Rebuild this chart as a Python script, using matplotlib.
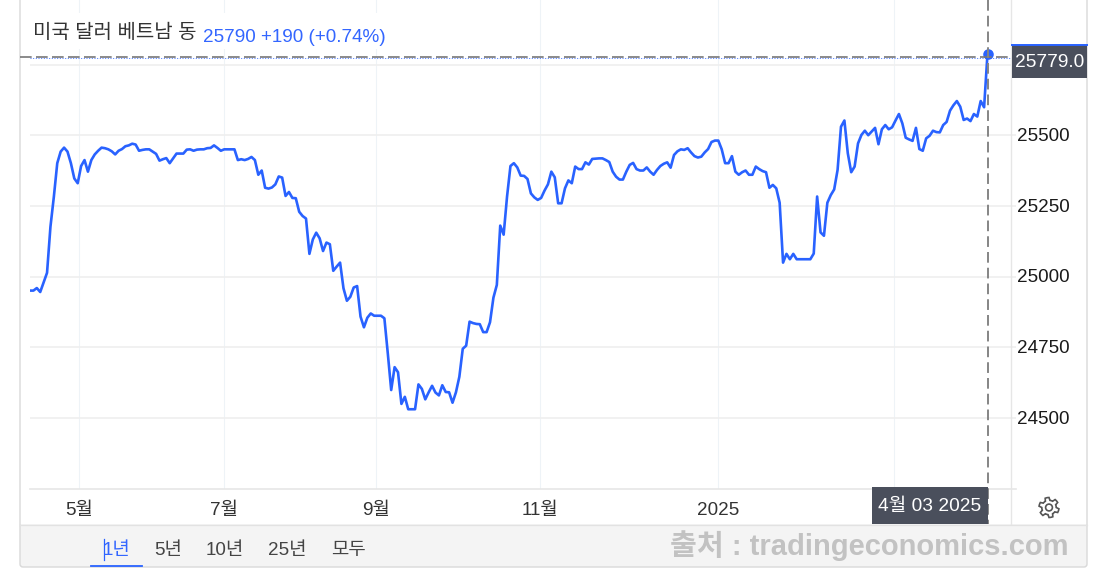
import numpy as np
import matplotlib
matplotlib.use('Agg')
import matplotlib.pyplot as plt
from matplotlib.patches import Rectangle, FancyBboxPatch, Polygon, Circle
from matplotlib.transforms import ScaledTranslation

# --- dados (USD/VND, 1 ano, um valor por sessao) ---
rate = [
    24951, 24951, 24960, 24946, 24980, 25014, 25177, 25283, 25402, 25443,
    25457, 25443, 25402, 25348, 25331, 25392, 25413, 25372, 25413, 25433,
    25446, 25457, 25455, 25451, 25444, 25433, 25446, 25452, 25462, 25465,
    25471, 25468, 25446, 25449, 25451, 25451, 25443, 25435, 25411, 25416,
    25420, 25402, 25419, 25436, 25436, 25436, 25450, 25451, 25446, 25450,
    25451, 25451, 25455, 25456, 25465, 25456, 25446, 25451, 25451, 25451,
    25451, 25413, 25416, 25413, 25417, 25424, 25413, 25361, 25376, 25315,
    25312, 25316, 25327, 25355, 25351, 25286, 25300, 25279, 25278, 25230,
    25215, 25206, 25081, 25132, 25156, 25136, 25091, 25121, 25115, 25021,
    25036, 25050, 24959, 24915, 24929, 24962, 24967, 24859, 24821, 24855,
    24870, 24862, 24862, 24862, 24853, 24729, 24599, 24680, 24662, 24550,
    24575, 24531, 24531, 24531, 24619, 24603, 24566, 24591, 24614, 24590,
    24580, 24616, 24592, 24591, 24554, 24591, 24646, 24745, 24756, 24841,
    24836, 24833, 24832, 24804, 24804, 24839, 24926, 24971, 25181, 25149,
    25284, 25392, 25402, 25387, 25358, 25357, 25346, 25295, 25281, 25272,
    25279, 25305, 25327, 25372, 25352, 25260, 25260, 25313, 25341, 25331,
    25390, 25381, 25381, 25405, 25397, 25417, 25418, 25419, 25419, 25413,
    25406, 25372, 25354, 25344, 25344, 25372, 25396, 25403, 25381, 25376,
    25376, 25387, 25372, 25361, 25378, 25392, 25400, 25405, 25386, 25431,
    25444, 25451, 25449, 25455, 25440, 25427, 25422, 25425, 25440, 25452,
    25477, 25482, 25482, 25451, 25402, 25402, 25427, 25372, 25361, 25370,
    25376, 25361, 25361, 25390, 25381, 25374, 25370, 25315, 25325, 25313,
    25262, 25050, 25081, 25062, 25081, 25062, 25062, 25062, 25062, 25062,
    25082, 25284, 25157, 25145, 25262, 25289, 25309, 25378, 25531, 25553,
    25437, 25370, 25390, 25472, 25502, 25517, 25501, 25514, 25527, 25469,
    25522, 25537, 25522, 25529, 25553, 25576, 25543, 25492, 25486, 25481,
    25527, 25452, 25446, 25490, 25499, 25517, 25512, 25511, 25537, 25548,
    25588, 25607, 25622, 25602, 25555, 25560, 25551, 25576, 25567, 25622,
    25600, 25790,
]
month_pos = [14.5, 57.05, 101.45, 149.76, 201.8, 253.6]
month_labels = ['5월', '7월', '9월', '11월', '2025', '']
y_ticks = [24500, 24750, 25000, 25250, 25500, 25750]
y_labels = ['24500', '24750', '25000', '25250', '25500', '']
range_buttons = ['1년', '5년', '10년', '25년', '모두']
cross_value = 25779.0

BLUE = '#2962ff'
fonts = ['Liberation Sans', 'Noto Sans CJK KR']
plt.rcParams['font.family'] = fonts

W, H = 1101, 577
fig = plt.figure(figsize=(W / 100, H / 100), dpi=100)

# --- 1. area do grafico (eixo em valores) ---
ax = fig.add_axes([30 / W, 1 - 489 / H, 980 / W, 489 / H], zorder=1)
ax.set_xlim(0, 287.6)
ax.set_ylim(24248.7, 25979.6)
for s in ax.spines.values():
    s.set_visible(False)
ax.set_xticks(month_pos)
ax.set_xticklabels(month_labels, fontsize=13.6, color='#333333')
ax.tick_params(axis='x', length=0, pad=9.5)
ax.yaxis.tick_right()
ax.set_yticks(y_ticks)
ax.set_yticklabels(y_labels, fontsize=13.6, color='#1a1a1a', va='center')
ax.tick_params(axis='y', length=4.3, width=1.1, color='#eeeeee', pad=0.8)
# desce os rotulos do eixo y 1 px
for lb in ax.get_yticklabels():
    lb.set_transform(lb.get_transform() + ScaledTranslation(0, -1 / 100, fig.dpi_scale_trans))
ax.grid(axis='y', color='#eeeeee', lw=1.1)
ax.grid(axis='x', color='#eef3f7', lw=0.8)
ax.set_axisbelow(True)
ax.plot(range(len(rate)), rate, color=BLUE, lw=1.9, solid_joinstyle='round')
ax.plot(len(rate) - 1, rate[-1], 'o', color=BLUE, ms=7.6, mew=0, clip_on=False)

# --- 2. moldura e textos da pagina (em pixels) ---
ui = fig.add_axes([0, 0, 1, 1], zorder=2)
ui.set_xlim(0, W)
ui.set_ylim(H, 0)
ui.axis('off')
ui.patch.set_alpha(0)

ui.add_patch(Rectangle((20, 13), 372, 36, fc='white', ec='none'))
ui.add_patch(Rectangle((20, 524), 1067, 43, fc='#f4f4f4', ec='none'))
ui.add_patch(FancyBboxPatch((23, -20), 1061, 584, boxstyle='round,pad=3,rounding_size=3',
                            fc='none', ec='#d9d9d9', lw=1))
ui.plot([20, 1087], [524.5, 524.5], color='#e2e2e2', lw=0.9)
ui.plot([30, 1016], [489, 489], color='#e6e6e6', lw=1.2)
ui.plot([1010.5, 1010.5], [0, 524], color='#e6e6e6', lw=1)

# linhas da mira
ui.plot([20, 1010], [57, 57], color='#777777', lw=1.2, dashes=(7, 2.6))
ui.plot([30, 1010], [57.8, 57.8], color=BLUE, lw=0.6, dashes=(1.2, 2))
ui.plot([988, 988], [0, 524], color='#858585', lw=1.4, dashes=(5.5, 2.6))

# titulo
ui.text(33, 32, '미국 달러 베트남 동', fontsize=14.4, color='#333333', va='center', ha='left')
ui.text(203, 37, '25790 +190 (+0.74%)', fontsize=13.6, color='#3366ff', va='center', ha='left')

# etiquetas escuras
ui.add_patch(Rectangle((1011.5, 45), 75, 33, fc='#4a4f5c', ec='none', zorder=3))
ui.plot([1011.5, 1086.5], [44.5, 44.5], color=BLUE, lw=1.4, zorder=3)
ui.text(1050, 62.5, f'{cross_value:.1f}', fontsize=13.8, color='white', va='center', ha='center', zorder=4)
ui.add_patch(Rectangle((871.5, 487), 116.5, 37, fc='#4a4f5c', ec='none', zorder=3))
ui.text(929.5, 506, '4월 03 2025', fontsize=13.8, color='white', va='center', ha='center', zorder=4)

# botoes de periodo
for label, x in zip(range_buttons, [116, 168, 225, 287, 348]):
    ui.text(x, 550.5, label, fontsize=13.6, va='center', ha='center',
            color='#3366ff' if label == '1년' else '#444444')
ui.plot([91, 142], [566, 566], color=BLUE, lw=1.3)
ui.plot([103.5, 103.5], [539, 560], color=BLUE, lw=0.9)

# marca d'agua
ui.text(1068, 546, '출처 : tradingeconomics.com', fontsize=21, fontweight='bold',
        color='#c2c2c2', va='center', ha='right')

# engrenagem
ang = np.linspace(0, 2 * np.pi, 48, endpoint=False) + np.pi / 24
rad = np.where((np.arange(48) % 8) < 4, 10, 7.2)
ui.add_patch(Polygon(np.c_[1049 + rad * np.cos(ang), 507.5 + rad * np.sin(ang)],
                     closed=True, fc='none', ec='#555555', lw=1.2))
ui.add_patch(Circle((1049, 507.5), 3.4, fc='none', ec='#555555', lw=1.2))

fig.savefig('out.png', dpi=100)
plt.close()
